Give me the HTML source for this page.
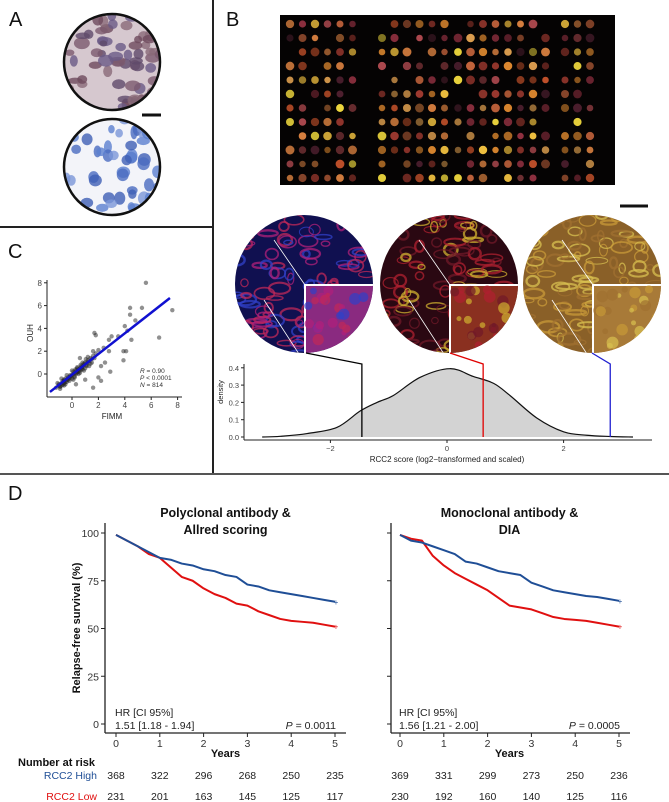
<!DOCTYPE html>
<html><head><meta charset="utf-8">
<style>
html,body{margin:0;padding:0;background:#fff;}
svg{display:block;font-family:"Liberation Sans",Arial,sans-serif;}
</style></head>
<body>
<svg id="fig" width="669" height="802" viewBox="0 0 669 802" xmlns="http://www.w3.org/2000/svg">
<defs>
  <clipPath id="cA1"><circle cx="112" cy="62" r="48"/></clipPath>
  <clipPath id="cA2"><circle cx="112" cy="167" r="48"/></clipPath>
  <clipPath id="cB1"><circle cx="304" cy="284" r="69"/></clipPath>
  <clipPath id="cB2"><circle cx="449" cy="284" r="69"/></clipPath>
  <clipPath id="cB3"><circle cx="592" cy="284" r="69"/></clipPath>
</defs>
<line x1="213" y1="0" x2="213" y2="474" stroke="#222" stroke-width="2"/>
<line x1="0" y1="227" x2="213" y2="227" stroke="#222" stroke-width="2"/>
<line x1="0" y1="474" x2="669" y2="474" stroke="#555" stroke-width="2"/>

<text x="9" y="26" font-size="20" fill="#111">A</text>
<g id="panelA">
  <circle cx="112" cy="62" r="48" fill="#d6c8cf"/>
  <g id="gA1" clip-path="url(#cA1)"></g>
  <circle cx="112" cy="62" r="48" fill="none" stroke="#111" stroke-width="2.5"/>
  <circle cx="112" cy="167" r="48" fill="#f3f4f9"/>
  <g id="gA2" clip-path="url(#cA2)"></g>
  <circle cx="112" cy="167" r="48" fill="none" stroke="#111" stroke-width="2.5"/>
  <line x1="142" y1="115" x2="161" y2="115" stroke="#111" stroke-width="3"/>
</g>

<text x="8" y="258" font-size="20" fill="#111">C</text>
<g id="panelC"></g>

<text x="226" y="26" font-size="20" fill="#111">B</text>
<rect x="280" y="15" width="335" height="170" fill="#050303"/>
<g id="tma"></g>
<line x1="620" y1="206" x2="648" y2="206" stroke="#111" stroke-width="3"/>
<g id="bigcores"></g>
<g id="panelB"></g>

<text x="8" y="500" font-size="20" fill="#111">D</text>
<g id="panelD"></g>
</svg>

<script>
// ---------- Panel C data ----------
const fimmVals = [-1.2,-1.0,-0.9,-0.8,-0.7,-0.6,-0.5,-0.4,-0.3,-0.2,-0.1,0.0,0.1,0.2,0.3,0.4,0.5,0.6,0.7,0.8,0.9,1.0,1.1,1.2,1.3,1.4,1.5,1.6,1.8,2.0,
  -1.1,-0.8,-0.6,-0.4,-0.2,0.0,0.2,0.4,0.6,0.8,1.0,1.2,1.4,1.6,-0.9,-0.5,0.1,0.5,0.9,1.3,
  -1.0,-0.7,-0.5,-0.3,-0.1,0.1,0.3,0.5,0.7,0.9,1.1,-0.9,-0.6,-0.2,0.2,0.4,0.6,0.8,-0.4,0.0,0.35,0.75,1.15,1.5,-0.75,-0.15,0.25,0.65,1.05,1.7,
  7.6,6.6,5.6,5.3,4.4,4.4,4.8,4.0,4.2,4.5,3.9,4.1,3.5,3.0,2.8,2.4,2.8,2.9,1.7,1.8,0.6,1.0,2.0,2.2,3.9,2.2,1.6,-0.6,0.3,2.5];
const ouhVals = [-1.2,-1.0,-1.1,-0.8,-0.9,-0.6,-0.7,-0.5,-0.3,-0.4,-0.2,-0.1,0.0,0.1,0.3,0.2,0.4,0.5,0.7,0.6,0.9,1.0,0.8,1.2,1.1,1.4,1.3,1.6,1.8,2.1,
  -0.8,-0.4,-1.0,-0.1,-0.6,0.3,-0.3,0.6,0.1,1.0,0.5,1.5,0.9,2.0,-1.3,-0.9,-0.5,0.0,0.3,0.7,
  -0.9,-0.6,-0.4,-0.5,-0.2,0.2,0.0,0.2,0.4,0.8,0.7,-1.1,-0.8,-0.3,-0.2,0.5,0.3,0.4,-0.7,-0.4,0.1,0.6,1.0,1.0,-1.0,-0.1,0.4,0.8,1.3,1.4,
  5.6,3.2,8.0,5.8,5.8,5.2,4.7,4.2,3.8,3.0,2.0,2.0,3.3,3.3,3.0,2.3,2.0,0.2,3.6,3.4,1.4,-0.5,-0.3,0.7,1.2,-0.6,-1.2,-0.5,-0.9,1.0];
const regCoef = [0.907, -0.06];
const cXTicks = [0,2,4,6,8];
const cYTicks = [0,2,4,6,8];

// ---------- Panel B data ----------
const densX = [-3.17,-2.86,-2.4,-1.89,-1.49,-1.2,-0.92,-0.46,0.05,0.45,0.8,1.08,1.54,2.0,2.4,2.8,3.19];
const densY = [0.0,0.004,0.02,0.055,0.15,0.2,0.24,0.345,0.395,0.35,0.31,0.24,0.11,0.03,0.01,0.003,0.0];
const markerVals = [-1.46, 0.62, 2.8];
const markerColors = ["#000","#e00000","#2020d0"];
const bXTicks = [-2,0,2];
const bYTicks = [0.0,0.1,0.2,0.3,0.4];

// ---------- Panel D data ----------
const kmYears = [0,0.25,0.5,0.75,1,1.25,1.5,1.75,2,2.25,2.5,2.75,3,3.25,3.5,3.75,4,4.25,4.5,4.75,5];
const polyHigh = [99,96,93,90,87,86,84,83,81,80,78,77,73,72,70,69,68,67,66,65,64];
const polyLow  = [99,96,93,89,87,82,77,75,71,68,66,63,62,59,57,55,54,53.5,53,52,51];
const monoHigh = [99,96,95,93,91,89,85,84,82,80,79,78,74,72,70,69,68,67,66.5,65.5,64.5];
const monoLow  = [99,97,96,88,83,79,76,73,70,66,62,61,60,58,56,55,54.5,54,53,52,51];
const polyRiskHigh = [368,322,296,268,250,235];
const polyRiskLow  = [231,201,163,145,125,117];
const monoRiskHigh = [369,331,299,273,250,236];
const monoRiskLow  = [230,192,160,140,125,116];
const kmXTicks = [0,1,2,3,4,5];
const kmYTicks = [0,25,50,75,100];

const NS="http://www.w3.org/2000/svg";
function mk(tag, attrs, parent){const e=document.createElementNS(NS,tag);for(const k in attrs)e.setAttribute(k,attrs[k]);if(parent)parent.appendChild(e);return e;}
function txt(parent,x,y,s,attrs){const t=mk('text',Object.assign({x:x,y:y},attrs||{}),parent);t.textContent=s;return t;}
let seed=7;function rnd(){seed=(seed*16807)%2147483647;return seed/2147483647;}

// ---- Panel A textures ----
(function(){
  const g1=document.getElementById('gA1');
  for(let i=0;i<80;i++){mk('ellipse',{cx:62+rnd()*100,cy:12+rnd()*100,rx:4+rnd()*4,ry:3+rnd()*3,fill:['#6e4a5c','#7c5a6e','#5f4a6a','#8a6a78','#6a5a86'][i%5],opacity:0.8},g1);}
  const g2=document.getElementById('gA2');
  for(let i=0;i<55;i++){mk('ellipse',{cx:62+rnd()*100,cy:117+rnd()*100,rx:3+rnd()*4,ry:4+rnd()*3,fill:['#5b7fcf','#4a6cc0','#7a96d8','#3f5fb5'][i%4],opacity:0.8},g2);}
})();

// ---- TMA dots ----
(function(){
  const g=document.getElementById('tma');
  const cols=['#c0502a','#e08a30','#d06a40','#f0c040','#a03a30','#e0a050','#b04a50','#f8e040','#903040','#d88040','#502030'];
  const blocks=[[290,6],[382,6],[458,8],[565,3]];
  blocks.forEach(b=>{for(let c=0;c<b[1];c++)for(let r=0;r<12;r++){if(rnd()<0.12)continue;
    mk('circle',{cx:b[0]+c*12.5,cy:24+r*14,r:3.2+rnd()*1.3,fill:cols[Math.floor(rnd()*cols.length)],opacity:0.5+rnd()*0.5},g);}});
})();

// ---- Big cores ----
(function(){
  const g=document.getElementById('bigcores');
  const cores=[[304,'#101050',['#b0207a','#c02858','#3040c8'],'cB1','#8a2a80'],[449,'#2a0812',['#b02030','#d0b030','#701828'],'cB2','#8a3020'],[592,'#8a6028',['#c89a38','#a07030','#d8c050'],'cB3','#a87a38']];
  cores.forEach((c,i)=>{
    const cg=mk('g',{'clip-path':'url(#'+c[3]+')'},g);
    
    
    mk('rect',{x:c[0]-70,y:214,width:140,height:140,fill:c[1]},cg);
    for(let k=0;k<120;k++){mk('ellipse',{cx:c[0]-70+rnd()*140,cy:214+rnd()*140,rx:3+rnd()*8,ry:2+rnd()*4,fill:'none',stroke:c[2][k%3],'stroke-width':1+rnd()*1.5,opacity:0.75},cg);}
    mk('rect',{x:c[0]+1,y:285,width:70,height:70,fill:c[4],stroke:'#fff','stroke-width':2},cg);
    for(let k=0;k<25;k++){mk('circle',{cx:c[0]+4+rnd()*64,cy:288+rnd()*64,r:2+rnd()*4,fill:c[2][k%3],opacity:0.7},cg);}
    mk('line',{x1:c[0]-30,y1:240,x2:c[0]+1,y2:285,stroke:'#fff','stroke-width':0.8},cg);
    mk('line',{x1:c[0]-40,y1:300,x2:c[0]-5,y2:354,stroke:'#fff','stroke-width':0.8},cg);
  });
})();

// ---- Panel C ----
(function(){
  const g=document.getElementById('panelC');
  const sx=v=>72+v*13.2, sy=v=>374-v*11.4;
  mk('line',{x1:47,y1:280,x2:47,y2:397,stroke:'#222','stroke-width':1},g);
  mk('line',{x1:47,y1:397,x2:182,y2:397,stroke:'#222','stroke-width':1},g);
  cYTicks.forEach(v=>{mk('line',{x1:44,y1:sy(v),x2:47,y2:sy(v),stroke:'#222'},g);txt(g,42,sy(v)+3,String(v),{'font-size':8,'text-anchor':'end',fill:'#444'});});
  cXTicks.forEach(v=>{mk('line',{x1:sx(v),y1:397,x2:sx(v),y2:400,stroke:'#222'},g);txt(g,sx(v),408,String(v),{'font-size':8,'text-anchor':'middle',fill:'#444'});});
  txt(g,112,419,'FIMM',{'font-size':8,'text-anchor':'middle',fill:'#222'});
  txt(g,0,0,'OUH',{'font-size':8,'text-anchor':'middle',fill:'#222',transform:'translate(33,333) rotate(-90)'});
  for(let i=0;i<fimmVals.length;i++){
    const p=mk('circle',{cx:sx(fimmVals[i]),cy:sy(ouhVals[i]),r:2.2,fill:'#222','fill-opacity':0.5},g);
    
    
  }
  const x0=-1.67,x1=7.42;
  const rl=mk('line',{x1:sx(x0),y1:sy(regCoef[1]+regCoef[0]*x0),x2:sx(x1),y2:sy(regCoef[1]+regCoef[0]*x1),stroke:'#1010d0','stroke-width':2.5},g);
  
  
  const st=mk('text',{x:140,y:373,'font-size':6.5,fill:'#333'},g);
  st.innerHTML='<tspan font-style="italic">R</tspan> = 0.90';
  const st2=mk('text',{x:140,y:380,'font-size':6.5,fill:'#333'},g);
  st2.innerHTML='<tspan font-style="italic">P</tspan> &lt; 0.0001';
  const st3=mk('text',{x:140,y:387,'font-size':6.5,fill:'#333'},g);
  st3.innerHTML='<tspan font-style="italic">N</tspan> = 814';
  
  
})();

// ---- Panel B density ----
(function(){
  const g=document.getElementById('panelB');
  const sx=v=>447+v*58.3, sy=v=>437-v*173;
  const pts=densX.map((x,i)=>[sx(x),sy(densY[i])]);
  let d='M'+pts[0][0]+','+pts[0][1];
  for(let i=0;i<pts.length-1;i++){
    const p0=pts[Math.max(0,i-1)],p1=pts[i],p2=pts[i+1],p3=pts[Math.min(pts.length-1,i+2)];
    const c1=[p1[0]+(p2[0]-p0[0])/6,p1[1]+(p2[1]-p0[1])/6],c2=[p2[0]-(p3[0]-p1[0])/6,p2[1]-(p3[1]-p1[1])/6];
    d+=' C'+c1[0]+','+c1[1]+' '+c2[0]+','+c2[1]+' '+p2[0]+','+p2[1];
  }
  const area=mk('path',{d:d+' Z',fill:'#d3d3d3',stroke:'none'},g);
  
  
  mk('path',{d:d,fill:'none',stroke:'#111','stroke-width':1.2},g);
  const coreX=[306,450,592];
  markerVals.forEach((v,i)=>{
    const l=mk('polyline',{points:coreX[i]+',353 '+sx(v)+',364 '+sx(v)+','+sy(0),fill:'none',stroke:markerColors[i],'stroke-width':1.3},g);
    
    
  });
  mk('line',{x1:244,y1:364,x2:244,y2:440,stroke:'#222'},g);
  mk('line',{x1:244,y1:440,x2:652,y2:440,stroke:'#222'},g);
  bYTicks.forEach(v=>{mk('line',{x1:241,y1:sy(v),x2:244,y2:sy(v),stroke:'#222'},g);txt(g,239,sy(v)+3,v.toFixed(1),{'font-size':7.5,'text-anchor':'end',fill:'#444'});});
  bXTicks.forEach(v=>{mk('line',{x1:sx(v),y1:440,x2:sx(v),y2:443,stroke:'#222'},g);txt(g,sx(v),451,v<0?'\u2212'+Math.abs(v):String(v),{'font-size':7.5,'text-anchor':'middle',fill:'#444'});});
  txt(g,447,462,'RCC2 score (log2\u2212transformed and scaled)',{'font-size':8,'text-anchor':'middle',fill:'#222'});
  txt(g,0,0,'density',{'font-size':7.5,'text-anchor':'middle',fill:'#222',transform:'translate(223,392) rotate(-90)'});
})();

// ---- Panel D ----
(function(){
  const G=document.getElementById('panelD');
  function km(x0,yAxisX,title,high,low,riskH,riskL,hr,p,showY){
    const g=mk('g',{},G);
    
    
    const sx=v=>x0+v*43.8, sy=v=>724-v*1.91;
    txt(g,(x0+sx(5))/2,517,title[0],{'font-size':12.5,'font-weight':'bold','text-anchor':'middle',fill:'#111'});
    txt(g,(x0+sx(5))/2,534,title[1],{'font-size':12.5,'font-weight':'bold','text-anchor':'middle',fill:'#111'});
    mk('line',{x1:yAxisX,y1:523,x2:yAxisX,y2:733,stroke:'#222','stroke-width':1.3},g);
    mk('line',{x1:yAxisX,y1:733,x2:sx(5)+11,y2:733,stroke:'#222','stroke-width':1.3},g);
    kmYTicks.forEach(v=>{mk('line',{x1:yAxisX-4,y1:sy(v),x2:yAxisX,y2:sy(v),stroke:'#222'},g);
      if(showY)txt(g,yAxisX-6,sy(v)+4,String(v),{'font-size':10.5,'text-anchor':'end',fill:'#333'});});
    kmXTicks.forEach(v=>{mk('line',{x1:sx(v),y1:733,x2:sx(v),y2:737,stroke:'#222'},g);txt(g,sx(v),747,String(v),{'font-size':10.5,'text-anchor':'middle',fill:'#333'});});
    txt(g,(x0+sx(5))/2,757,'Years',{'font-size':11,'font-weight':'bold','text-anchor':'middle',fill:'#111'});
    [[low,'#e01010'],[high,'#1f4e96']].forEach(s=>{
      let d='M'+sx(kmYears[0])+','+sy(s[0][0]);
      for(let i=1;i<kmYears.length;i++){d+=' L'+sx(kmYears[i])+','+sy(s[0][i]);}
      const path=mk('path',{d:d,fill:'none',stroke:s[1],'stroke-width':2,'stroke-linejoin':'round'},g);
      
      
      txt(g,sx(5)+1,sy(s[0][kmYears.length-1])+3,'+',{'font-size':8,'text-anchor':'middle',fill:s[1]});
    });
    txt(g,x0-1,716,'HR [CI 95%]',{'font-size':10.5,fill:'#222'});
    txt(g,x0-1,729,hr,{'font-size':10.5,fill:'#222'});
    const pt=mk('text',{x:sx(5)+1,y:729,'font-size':10.5,'text-anchor':'end',fill:'#222'},g);
    pt.innerHTML='<tspan font-style="italic">P</tspan> = '+p;
    riskH.forEach((v,i)=>txt(g,sx(kmXTicks[i]),779,String(v),{'font-size':10.5,'text-anchor':'middle',fill:'#222'}));
    riskL.forEach((v,i)=>txt(g,sx(kmXTicks[i]),800,String(v),{'font-size':10.5,'text-anchor':'middle',fill:'#222'}));
  }
  km(116,105,['Polyclonal antibody &','Allred scoring'],polyHigh,polyLow,polyRiskHigh,polyRiskLow,'1.51 [1.18 - 1.94]','0.0011',true);
  km(400,391,['Monoclonal antibody &','DIA'],monoHigh,monoLow,monoRiskHigh,monoRiskLow,'1.56 [1.21 - 2.00]','0.0005',false);
  txt(G,0,0,'Relapse-free survival (%)',{'font-size':11,'font-weight':'bold','text-anchor':'middle',fill:'#111',transform:'translate(80,628) rotate(-90)'});
  txt(G,18,766,'Number at risk',{'font-size':11,'font-weight':'bold',fill:'#111'});
  txt(G,97,779,'RCC2 High',{'font-size':10.5,'text-anchor':'end',fill:'#1f4e96'});
  txt(G,97,800,'RCC2 Low',{'font-size':10.5,'text-anchor':'end',fill:'#e01010'});
})();
</script>
</body></html>
